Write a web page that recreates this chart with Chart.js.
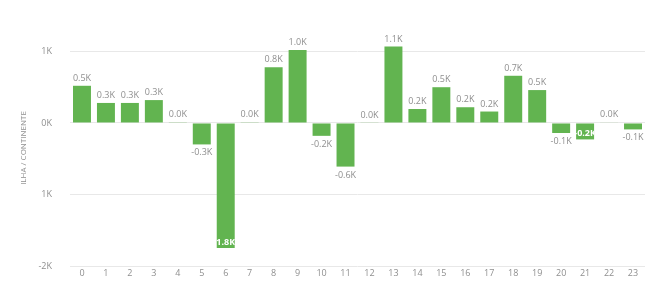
<!DOCTYPE html>
<html>
<head>
<script src="https://cdn.jsdelivr.net/npm/chart.js"></script>
<style>
  html, body { margin: 0; padding: 0; background: #fff; }
  #wrap { width: 650px; height: 282px; }
</style>
</head>
<body>
<div id="wrap"><canvas id="myChart"></canvas></div>
<script>
// hours of the day
var hours = ['0','1','2','3','4','5','6','7','8','9','10','11','12','13','14','15','16','17','18','19','20','21','22','23'];
// difference ILHA / CONTINENTE per hour
var diffValues = [520, 280, 280, 320, 10, -300, -1750, 10, 780, 1020, -180, -610, 5, 1070, 195, 500, 220, 160, 660, 460, -140, -230, 8, -90];
var yTicks = [-2000, -1000, 0, 1000];
var yTickLabels = ['-2K', '1K', '0K', '1K'];

var barColor = '#62b450';
var textColor = '#8f8f8f';
var fontFamily = '"Open Sans", sans-serif';

function fmtK(v) {
  return (v / 1000).toFixed(1) + 'K';
}

// these two get their label inside the bar end
var insideLabels = [6, 21];

var labelPlugin = {
  id: 'barLabels',
  afterDatasetsDraw: function(chart) {
    var ctx = chart.ctx;
    var meta = chart.getDatasetMeta(0);
    var xScale = chart.scales.x;
    ctx.save();
    ctx.font = '9px ' + fontFamily;
    ctx.textAlign = 'center';
    meta.data.forEach(function(bar, i) {
      var v = diffValues[i];
      var txt = fmtK(v);
      if (v >= 0) {
        ctx.fillStyle = textColor;
        ctx.textBaseline = 'bottom';
        ctx.fillText(txt, bar.x, bar.y - 3);
      } else if (insideLabels.indexOf(i) >= 0) {
        ctx.save();
        ctx.beginPath();
        ctx.rect(bar.x - bar.width / 2, bar.base, bar.width, bar.y - bar.base);
        ctx.clip();
        ctx.fillStyle = '#ffffff';
        ctx.textBaseline = 'bottom';
        ctx.font = 'bold 9px ' + fontFamily;
        ctx.fillText(i === 6 ? txt.replace('-', '') : txt, bar.x, bar.y - 1);
        ctx.restore();
      } else {
        ctx.fillStyle = textColor;
        ctx.textBaseline = 'top';
        ctx.fillText(txt, bar.x, bar.y + 4);
      }
    });
    // hour labels sit right under the -2K line
    ctx.fillStyle = textColor;
    ctx.textBaseline = 'middle';
    ctx.font = '9px ' + fontFamily;
    hours.forEach(function(h, i) {
      ctx.fillText(h, xScale.getPixelForValue(i), chart.chartArea.bottom + 7);
    });
    ctx.restore();
  }
};

var ctx = document.getElementById('myChart').getContext('2d');
var myChart = new Chart(ctx, {
  type: 'bar',
  data: {
    labels: hours,
    datasets: [{
      data: diffValues,
      backgroundColor: barColor,
      borderWidth: 0,
      categoryPercentage: 1.0,
      barPercentage: 0.75
    }]
  },
  options: {
    responsive: true,
    maintainAspectRatio: false,
    animation: false,
    layout: { padding: { left: 19, right: 5, top: 30, bottom: 16 } },
    plugins: {
      legend: { display: false },
      tooltip: { enabled: false }
    },
    scales: {
      x: { display: false },
      y: {
        min: -2000,
        max: 1300,
        afterBuildTicks: function(scale) {
          scale.ticks = yTicks.map(function(v) { return { value: v }; });
        },
        afterFit: function(scale) {
          scale.width = 51;
          scale.paddingTop = 0;
          scale.paddingBottom = 0;
        },
        border: { display: false },
        grid: {
          color: '#e8e8e8',
          borderDash: [1, 2],
          drawTicks: false
        },
        ticks: {
          color: textColor,
          font: { family: fontFamily, size: 9 },
          padding: 18,
          callback: function(v) {
            var k = yTicks.indexOf(v);
            return k >= 0 ? yTickLabels[k] : '';
          }
        },
        title: {
          display: true,
          text: 'ILHA / CONTINENTE',
          color: textColor,
          font: { family: fontFamily, size: 8 },
          padding: 0
        }
      }
    }
  },
  plugins: [labelPlugin]
});
</script>
</body>
</html>
